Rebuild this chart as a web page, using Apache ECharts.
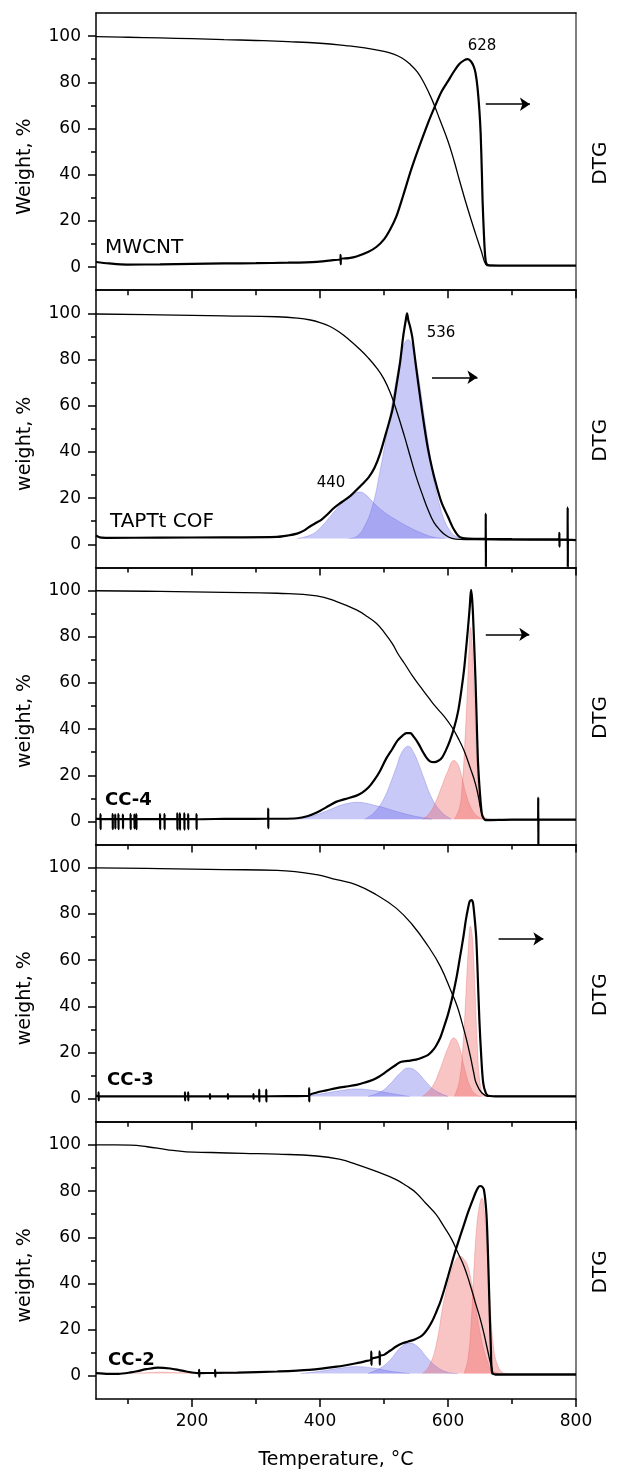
<!DOCTYPE html>
<html><head><meta charset="utf-8">
<script src="https://cdn.jsdelivr.net/npm/echarts@6/dist/echarts.min.js"></script>
<style>html,body{margin:0;padding:0;background:#fff}#c{width:622px;height:1476px}</style>
</head><body><div id="c"></div><script>
// ---------- DATA ----------
const panelNames = ['MWCNT', 'TAPTt COF', 'CC-4', 'CC-3', 'CC-2'];
const yTitles = ['Weight, %', 'weight, %', 'weight, %', 'weight, %', 'weight, %'];
const rightTitle = 'DTG';
const xTitle = 'Temperature, °C';
const xMajorTicks = [200, 400, 600, 800];
const xMinorTicks = [100, 300, 500, 700];
const yMajorTicks = [0, 20, 40, 60, 80, 100];
const yMinorTicks = [10, 30, 50, 70, 90];
const peakTexts = ['628', '536', '440'];

// Panel 1: MWCNT
const mwcntTGA = [[50,99.8],[100,99.5],[150,99.2],[200,98.9],[250,98.5],[300,98.1],[350,97.6],[400,96.9],[440,95.9],[470,94.9],[500,93.4],[515,92.2],[528,90.5],[540,88],[552,84.5],[563,79.5],[575,72.5],[587,64],[600,54.5],[610,45.5],[618,37.5],[630,26],[643,14.5],[652,7],[659,1.2],[665,0.5],[800,0.5]];
const mwcntDTG = [[50,2.2],[70,1.6],[98,1.1],[150,1.2],[200,1.4],[250,1.6],[300,1.7],[350,1.9],[395,2.3],[420,3],[432,3.5],[432.2,5.3],[432.4,1.2],[432.6,3.6],[445,3.9],[457,4.6],[475,6.5],[488,8.7],[500,12],[510,16.5],[519,21.7],[530,31],[544,43.5],[569,62.5],[581,70.5],[590,76],[600,80.5],[610,85],[618,88],[625,89.5],[631,90],[636,89],[640,87],[643,84],[646,78],[649,68],[651,58],[653,40],[654,29],[656,15],[658,5],[660,1.5],[665,0.8],[700,0.7],[800,0.7]];

// Panel 2: TAPTt COF
const cofTGA = [[50,99.7],[150,99.3],[250,98.9],[333,98.5],[365,97.9],[385,97.1],[400,96],[415,94.4],[430,91.9],[445,88.7],[460,85],[475,80.8],[490,75.8],[500,71.5],[510,65.5],[520,57.5],[532,46.7],[541,38],[550,29.5],[560,21.5],[569,14.8],[578,9.5],[588,6],[597,3.8],[606,2.6],[620,2.1],[640,2],[800,1.8]];
const cofDTG = [[50,3.9],[56,3],[70,2.8],[150,2.9],[250,3],[333,3.2],[350,3.8],[364,4.6],[374,5.8],[383,7.5],[392,9],[402,10.6],[411,12.8],[420,15.3],[430,17.5],[439,19.2],[448,21.1],[457,23.5],[466,26],[476,29],[485,33],[494,39.4],[503,48],[513,58],[519,68],[525,78.5],[530,90],[534,97],[536,100],[538,97],[541,94],[544,90],[550,77],[557,62.6],[563,51],[569,40.9],[575,33],[581,26.4],[590,18],[600,11.9],[609,6.5],[618,3.2],[631,2.5],[658.8,2.4],[659,13.3],[659.2,-9.9],[659.4,2.4],[700,2.2],[760,2.1],[773.8,2.2],[774,5],[774.2,-1],[774.4,2],[786.8,2],[787,16],[787.2,-10],[787.4,2],[800,1.8]];
const cofFit1 = [[364,2.5],[385,4],[400,7],[422,14],[440,19.5],[452,21.8],[462,22.6],[472,21.3],[483,18.2],[500,14],[520,10.4],[540,7.3],[556,5.2],[575,3.3],[595,2.5]];
const cofFit2 = [[445,2.5],[458,3.5],[470,8],[483,17.6],[494,32],[502,44],[509,55],[519,71],[526,81],[532,87],[538,88.6],[543,86.5],[547,83],[552,76],[557,67],[563,55],[569,44],[575,33],[581,23.5],[588,16],[594,10.5],[603,6],[612,3.5],[630,2.5]];

// Panel 3: CC-4
const cc4TGA = [[50,99.9],[150,99.6],[250,99.2],[333,98.8],[395,97.7],[426,95.2],[457,91.6],[475,88.5],[488,85.8],[500,82],[513,77],[522,72.5],[532,68.4],[545,62.8],[557,58.3],[570,53.5],[581,49.6],[594,45.5],[606,40.9],[616,36],[625,30.7],[635,23],[643,16.2],[648,10],[653,3.2],[659,0.9],[700,0.8],[800,0.8]];
const cc4DTG = [[50,1.2],[57,1],[57.1,3.2],[57.2,-3.3],[57.3,1],[76,1],[76.1,3.2],[76.2,-3.3],[76.3,1],[80,1],[80.1,3],[80.2,-3],[80.3,1],[85,1],[85.1,3.2],[85.2,-3.3],[85.3,1],[92,1],[92.1,3],[92.2,-3],[92.3,1],[104,1],[104.1,3.2],[104.2,-3.3],[104.3,1],[110,1],[110.1,3],[110.2,-3],[110.3,1],[113,1],[113.1,3.2],[113.2,-3.3],[113.3,1],[150,1],[150.1,3.2],[150.2,-3.3],[150.3,1],[157,1],[157.1,3.2],[157.2,-3.3],[157.3,1],[177,1],[177.1,3.5],[177.2,-3.5],[177.3,1],[181,1],[181.1,3.5],[181.2,-3.5],[181.3,1],[188,1],[188.1,3.5],[188.2,-3.5],[188.3,1],[194,1],[194.1,3.2],[194.2,-3.3],[194.3,1],[207,1],[207.1,3.2],[207.2,-3.3],[207.3,1],[250,1.1],[319,1.2],[319.1,5.6],[319.2,-2.9],[319.3,1.2],[340,1.2],[364,1.4],[380,2.3],[395,3.9],[414,6.8],[425,8.5],[439,9.7],[457,11.2],[466,12.5],[476,14.8],[485,18],[494,22],[503,27],[513,31.4],[521,35],[529,37.2],[535,38.3],[541,38.3],[547,36.5],[554,33.6],[560,30.5],[566,27.8],[572,26],[578,25.7],[585,26.3],[591,27.8],[597,31],[603,35],[610,41],[616,48],[621,57],[625,65.5],[628,74],[631,83],[634,93],[636,100.3],[637.5,97],[639,90],[641,76],[643,61],[645,42],[647,25],[650,12],[653,3.2],[656,1.2],[659,0.6],[700,0.8],[740.8,0.8],[741,10.4],[741.2,-10],[741.4,0.8],[800,0.8]];
const cc4Fit1 = [[364,1],[390,2.5],[410,4.5],[430,6.8],[445,7.9],[457,8.3],[470,8],[485,7],[500,6],[520,4.3],[545,2.5],[575,1]];
const cc4Fit2 = [[470,1],[485,4],[500,10],[512,18],[520,24],[528,30],[538,32.6],[546,30],[554,25],[562,19],[575,10],[590,4],[605,1]];
const cc4Fit3 = [[560,1],[570,3.2],[580,8],[590,15],[600,22],[609,26.4],[615,25],[621,20],[628,12],[636,6],[645,2.5],[655,1]];
const cc4Fit4 = [[610,1],[618,6],[622,15],[626,32],[630,55],[633,75],[635,84],[637,80],[640,62],[643,40],[646,22],[650,8],[655,2.5],[662,1]];

// Panel 4: CC-3
const cc3TGA = [[50,99.9],[150,99.6],[250,99.2],[333,98.8],[395,97],[426,94.8],[457,92.6],[488,88.3],[519,82.5],[544,75.4],[569,66],[588,57.3],[606,45.8],[615,39.5],[622,32.8],[629,25.5],[635,18.3],[640,11.5],[644,6.8],[653,2.5],[665,1],[800,1]];
const cc3DTG = [[50,1.2],[54,1],[54.1,2.7],[54.2,-0.7],[54.3,1],[189,1],[189.1,2.7],[189.2,-0.7],[189.3,1],[194,1],[194.1,2.7],[194.2,-0.7],[194.3,1],[228,1],[228.1,2],[228.2,0],[228.3,1],[256,1],[256.1,2],[256.2,0],[256.3,1],[296,1],[296.1,2],[296.2,0],[296.3,1],[305,1],[305.1,3.9],[305.2,-1.2],[305.3,1],[316,1],[316.1,3.9],[316.2,-1.2],[316.3,1],[383,1.2],[383.1,4.6],[383.2,-1.2],[383.3,1.3],[395,2.7],[410,3.6],[426,4.6],[440,5.2],[457,6],[470,7],[483,8.2],[492,9.5],[500,11],[510,13],[519,14.7],[525,15.8],[532,16.2],[541,16.5],[550,16.9],[560,17.8],[569,19],[575,20.5],[581,22.7],[588,26.5],[594,31.3],[600,36.5],[606,42.9],[613,52],[619,61.7],[624,70],[628,77.5],[631,82],[634,85.5],[637,86],[639,84.8],[641,80],[644,70.3],[646,57],[649,34.2],[652,18],[655,6.8],[659,2.5],[663,1.3],[680,1],[800,1]];
const cc3Fit1 = [[370,1],[400,2],[430,3.4],[457,4.2],[485,3.5],[510,2.3],[540,1]];
const cc3Fit2 = [[475,1],[495,3],[510,6.5],[525,11],[538,13.3],[550,12],[565,7.5],[580,3.5],[600,1]];
const cc3Fit3 = [[560,1],[575,5],[588,13],[600,22],[609,26.3],[617,23],[626,13],[635,5],[645,1.5],[652,1]];
const cc3Fit4 = [[610,1],[618,8],[624,25],[628,45],[632,66],[635,74.7],[638,70],[642,48],[646,22],[650,7],[656,1.5],[662,1]];

// Panel 5: CC-2
const cc2TGA = [[50,100],[80,100],[104,99.9],[130,99.2],[160,98],[191,97],[230,96.7],[280,96.3],[333,96],[395,95.2],[430,93.8],[457,91.6],[488,88.5],[519,85],[535,82.3],[550,79.3],[566,74.5],[581,70],[594,64.5],[606,59],[616,53],[625,47.5],[634,40],[643,31.5],[650,25],[656,18.5],[662,11],[668,4],[674,0.5],[800,0.5]];
const cc2DTG = [[50,1.2],[70,0.9],[85,0.9],[104,1.5],[117,2.2],[129,2.9],[147,3.6],[166,3.2],[180,2.5],[191,1.9],[209,1.2],[211,1.2],[211.2,2.6],[211.4,-0.3],[211.6,1.2],[236,1.3],[236.2,2.6],[236.4,-0.3],[236.6,1.3],[271,1.4],[333,1.9],[383,2.6],[426,4],[457,5.5],[470,6.3],[480,7.2],[480.2,10.6],[480.4,4.8],[480.6,7.3],[493,8.5],[493.2,10.6],[493.4,4.8],[493.6,8.6],[500,9.1],[510,11],[519,12.7],[528,14],[538,14.9],[548,15.8],[557,17],[563,18.5],[569,20.7],[575,23.5],[581,27.2],[588,32],[594,37.3],[600,43],[606,48.9],[612,54.5],[619,60.5],[625,65.5],[631,70.6],[637,75],[643,79.3],[647,81.5],[650,82.2],[653,82],[656,80.7],[659,74],[661,64.8],[663,48],[665,28.7],[667,12],[669,1.2],[675,0.7],[800,0.7]];
const cc2Fit0 = [[104,1],[130,1.4],[150,1.6],[180,1.4],[220,1.2],[271,1]];
const cc2Fit1 = [[370,1],[400,2],[430,3.3],[457,4],[485,3.3],[510,2],[540,1]];
const cc2Fit2 = [[475,1],[495,3.5],[510,7],[525,12],[540,14.2],[553,12.5],[567,8],[582,4],[600,1.5],[615,1]];
const cc2Fit3 = [[560,1],[570,4],[581,12.7],[594,33],[606,46],[612,50],[619,51.8],[625,50.5],[631,47.5],[637,40],[643,30],[650,19],[656,11.3],[662,6],[668,2.6],[680,1]];
const cc2Fit4 = [[625,1],[631,7],[636,22],[640,43],[645,65],[650,75],[653,77],[657,70],[662,50],[666,30],[671,12.7],[677,5],[685,1.5],[692,1]];

// Fit baselines and arrows (data units: x start, x end, y)
const fitBaselines = [1, 2.5, 1, 1, 1];
const arrows = [[659, 728, 70.5], [575, 646, 72.3], [659, 727, 81], [679, 749, 69.2], null];

// ---------- LAYOUT / STYLE ----------
const FONT = "'DejaVu Sans', sans-serif";
const TOPS = [13, 290.2, 567.4, 844.6, 1121.8], PH = 277.2, GL = 96, GW = 480;
const BLUE_FILL = 'rgba(100,100,235,0.35)', BLUE_EDGE = 'rgba(110,110,225,0.45)';
const RED_FILL = 'rgba(240,100,100,0.38)', RED_EDGE = 'rgba(225,110,110,0.45)';
const SMOOTH = 0.45;

const tga = [mwcntTGA, cofTGA, cc4TGA, cc3TGA, cc2TGA];
const dtg = [mwcntDTG, cofDTG, cc4DTG, cc3DTG, cc2DTG];
const fits = [
  [],
  [[cofFit1, 'b'], [cofFit2, 'b']],
  [[cc4Fit1, 'b'], [cc4Fit2, 'b'], [cc4Fit3, 'r'], [cc4Fit4, 'r']],
  [[cc3Fit1, 'b'], [cc3Fit2, 'b'], [cc3Fit3, 'r'], [cc3Fit4, 'r']],
  [[cc2Fit0, 'r'], [cc2Fit1, 'b'], [cc2Fit2, 'b'], [cc2Fit3, 'r'], [cc2Fit4, 'r']]
];

const grids = [], xAxes = [], yAxes = [], series = [], graphics = [];
const black = { color: '#000', width: 1.5 };

for (let i = 0; i < 5; i++) {
  grids.push({ left: GL, top: TOPS[i], width: GW, height: PH });
  xAxes.push({
    type: 'value', gridIndex: i, min: 50, max: 800, position: 'bottom',
    axisLine: { show: true, onZero: false, lineStyle: black },
    axisTick: { show: true, inside: false, length: 8, customValues: xMajorTicks, lineStyle: black },
    axisLabel: { show: i === 4, customValues: xMajorTicks, fontSize: 17, fontFamily: FONT, color: '#000', margin: 14 },
    splitLine: { show: false },
    name: i === 4 ? xTitle : '', nameLocation: 'middle', nameGap: 52,
    nameTextStyle: { fontSize: 19, fontFamily: FONT, color: '#000' }
  });
  xAxes.push({
    type: 'value', gridIndex: i, min: 50, max: 800, position: 'bottom',
    axisLine: { show: false, onZero: false },
    axisTick: { show: true, inside: false, length: 5, customValues: xMinorTicks, lineStyle: black },
    axisLabel: { show: false }, splitLine: { show: false }
  });
  xAxes.push({
    type: 'value', gridIndex: i, min: 50, max: 800, position: 'top',
    axisLine: { show: true, onZero: false, lineStyle: black },
    axisTick: { show: false }, axisLabel: { show: false }, splitLine: { show: false }
  });
  yAxes.push({
    type: 'value', gridIndex: i, min: -10, max: 110, position: 'left',
    axisLine: { show: true, onZero: false, lineStyle: black },
    axisTick: { show: true, inside: false, length: 8, customValues: yMajorTicks, lineStyle: black },
    axisLabel: { customValues: yMajorTicks, fontSize: 17, fontFamily: FONT, color: '#000', margin: 15 },
    splitLine: { show: false }
  });
  yAxes.push({
    type: 'value', gridIndex: i, min: -10, max: 110, position: 'left',
    axisLine: { show: false, onZero: false },
    axisTick: { show: true, inside: false, length: 5, customValues: yMinorTicks, lineStyle: black },
    axisLabel: { show: false }, splitLine: { show: false }
  });
  yAxes.push({
    type: 'value', gridIndex: i, min: -10, max: 110, position: 'right',
    axisLine: { show: true, onZero: false, lineStyle: { color: '#555', width: 1.5 } },
    axisTick: { show: false }, axisLabel: { show: false }, splitLine: { show: false }
  });

  const xi = 3 * i, yi = 3 * i;
  fits[i].forEach(([d, k]) => {
    series.push({
      type: 'line', xAxisIndex: xi, yAxisIndex: yi, data: d, symbol: 'none',
      smooth: SMOOTH, silent: true, z: 1,
      lineStyle: { color: k === 'b' ? BLUE_EDGE : RED_EDGE, width: 0.8 },
      areaStyle: { color: k === 'b' ? BLUE_FILL : RED_FILL, opacity: 1, origin: fitBaselines[i] }
    });
  });
  series.push({
    type: 'line', xAxisIndex: xi, yAxisIndex: yi, data: tga[i], symbol: 'none',
    smooth: SMOOTH, silent: true, z: 3,
    lineStyle: { color: '#000', width: 1.3 }
  });
  const s = {
    type: 'line', xAxisIndex: xi, yAxisIndex: yi, data: dtg[i], symbol: 'none',
    smooth: 0.3, silent: true, z: 4,
    lineStyle: { color: '#000', width: 2.2 }
  };
  if (arrows[i]) {
    const a = arrows[i];
    s.markLine = {
      silent: true, symbol: ['none', 'arrow'], symbolSize: 10, label: { show: false },
      lineStyle: { color: '#000', width: 1.5, type: 'solid' },
      data: [[{ coord: [a[0], a[2]] }, { coord: [a[1], a[2]] }]]
    };
  }
  series.push(s);

  const cy = TOPS[i] + PH / 2;
  graphics.push({
    type: 'text', x: 25, y: cy + 15, rotation: Math.PI / 2,
    style: { text: yTitles[i], fontSize: 19, fontFamily: FONT, fill: '#000', align: 'center', verticalAlign: 'middle' }
  });
  graphics.push({
    type: 'text', x: 601, y: cy + 11.5, rotation: Math.PI / 2,
    style: { text: rightTitle, fontSize: 20, fontFamily: FONT, fill: '#000', align: 'center', verticalAlign: 'middle' }
  });
}

const nameLayout = [[105, 248, false, 20], [110, 522, false, 20], [105, 800, true, 18], [107, 1080, true, 18], [108, 1360, true, 18]];
nameLayout.forEach(([x, y, bold, fs], i) => {
  graphics.push({
    type: 'text', x, y,
    style: { text: panelNames[i], fontSize: fs, fontWeight: bold ? 'bold' : 'normal', fontFamily: FONT, fill: '#000', align: 'left', verticalAlign: 'middle' }
  });
});
const peakLayout = [[482, 46], [441, 333], [331, 483]];
peakLayout.forEach(([x, y], i) => {
  graphics.push({
    type: 'text', x, y,
    style: { text: peakTexts[i], fontSize: 15, fontFamily: FONT, fill: '#000', align: 'center', verticalAlign: 'middle' }
  });
});

const chart = echarts.init(document.getElementById('c'), null, { renderer: 'canvas' });
chart.setOption({
  animation: false,
  backgroundColor: '#fff',
  grid: grids, xAxis: xAxes, yAxis: yAxes, series: series, graphic: graphics
});
</script></body></html>
